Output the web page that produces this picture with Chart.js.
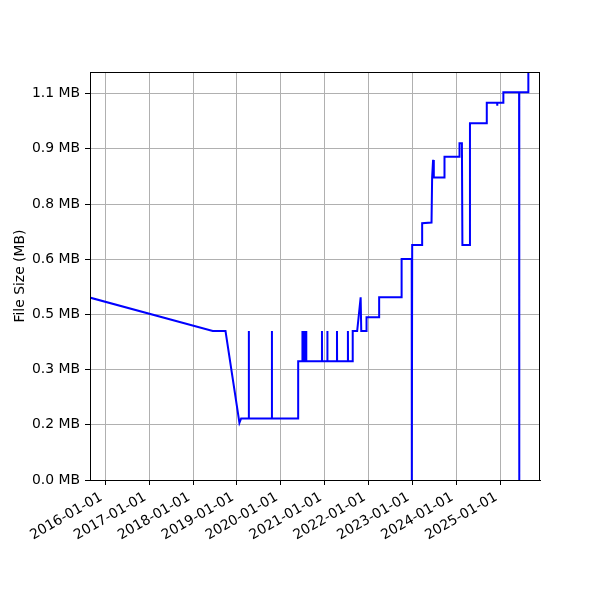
<!DOCTYPE html>
<html>
<head>
<meta charset="utf-8">
<script src="https://cdn.jsdelivr.net/npm/chart.js@4"></script>
<style>
  body { margin: 0; background: #fff; }
  canvas { display: block; }
</style>
</head>
<body>
<canvas id="FileSize" width="600" height="600"></canvas>
<script>
// file size over time
var Dates = [
  '2015-06-01', '2018-06-14', '2018-09-28', '2019-01-22', '2019-02-05',
  '2019-04-09', '2019-04-10', '2019-04-11',
  '2019-10-18', '2019-10-19', '2019-10-20',
  '2020-05-24', '2020-05-25',
  '2020-06-28', '2020-06-29', '2020-06-30',
  '2020-07-10', '2020-07-11', '2020-07-12',
  '2020-07-21', '2020-07-22', '2020-07-23',
  '2020-07-30', '2020-07-31', '2020-08-01',
  '2020-12-08', '2020-12-09', '2020-12-10',
  '2021-01-22', '2021-01-23', '2021-01-24',
  '2021-04-12', '2021-04-13', '2021-04-14',
  '2021-07-12', '2021-07-13', '2021-07-14',
  '2021-08-21', '2021-08-22', '2021-09-28', '2021-10-27', '2021-11-01',
  '2021-12-14', '2021-12-15', '2022-03-29', '2022-03-30',
  '2022-10-02', '2022-10-03', '2022-12-26', '2022-12-27', '2022-12-30',
  '2023-03-22', '2023-03-23', '2023-06-09', '2023-06-14',
  '2023-06-21', '2023-06-22', '2023-06-28',
  '2023-09-24', '2023-09-25', '2024-01-27', '2024-01-28',
  '2024-02-17', '2024-02-21', '2024-04-23', '2024-04-24',
  '2024-09-10', '2024-09-11', '2024-12-06', '2024-12-07', '2024-12-08',
  '2025-01-26', '2025-01-27', '2025-06-07', '2025-06-08', '2025-06-09',
  '2025-08-22', '2025-08-23'
];
var SizesMB = [
  0.512, 0.412, 0.412, 0.158, 0.170,
  0.170, 0.412, 0.170,
  0.170, 0.412, 0.170,
  0.170, 0.328,
  0.328, 0.412, 0.328,
  0.328, 0.412, 0.328,
  0.328, 0.412, 0.328,
  0.328, 0.412, 0.328,
  0.328, 0.412, 0.328,
  0.328, 0.412, 0.328,
  0.328, 0.412, 0.328,
  0.328, 0.412, 0.328,
  0.328, 0.412, 0.412, 0.505, 0.412,
  0.412, 0.450, 0.450, 0.505,
  0.505, 0.611, 0.611, 0.000, 0.650,
  0.650, 0.710, 0.712, 0.836,
  0.836, 0.885, 0.836,
  0.836, 0.894, 0.894, 0.931,
  0.931, 0.650, 0.650, 0.986,
  0.986, 1.043, 1.043, 1.035, 1.043,
  1.043, 1.072, 1.072, 0.000, 1.072,
  1.072, 1.250
];

var XTickLabels = ['2016-01-01', '2017-01-01', '2018-01-01', '2019-01-01', '2020-01-01',
                   '2021-01-01', '2022-01-01', '2023-01-01', '2024-01-01', '2025-01-01'];
var XMin = '2015-08-27';
var XMax = '2025-11-28';

var YTickValues = [0, 0.1526, 0.3052, 0.4578, 0.6104, 0.7629, 0.9155, 1.0681];
var YTickLabels = ['0.0 MB', '0.2 MB', '0.3 MB', '0.5 MB', '0.6 MB', '0.8 MB', '0.9 MB', '1.1 MB'];
var YMax = 1.128;

var points = [];
for (var i = 0; i < Dates.length; i++) {
  points.push({x: Date.parse(Dates[i]), y: SizesMB[i]});
}

Chart.defaults.font.family = '"DejaVu Sans", sans-serif';
Chart.defaults.font.size = 13.9;
Chart.defaults.color = '#000';

// top and right spines
const frame = {
  id: 'frame',
  afterDraw(chart) {
    const a = chart.chartArea;
    const c = chart.ctx;
    c.save();
    c.strokeStyle = '#000';
    c.lineWidth = 1;
    c.strokeRect(a.left + 0.5, a.top + 0.5, a.right - a.left - 1, a.bottom - a.top);
    c.restore();
  }
};

const ctx = document.getElementById('FileSize').getContext('2d');
const SizeChart = new Chart(ctx, {
  type: 'line',
  data: {
    datasets: [{
      data: points,
      borderColor: '#0000ff',
      borderWidth: 2,
      pointRadius: 0,
      fill: false,
      tension: 0
    }]
  },
  options: {
    responsive: false,
    animation: false,
    layout: { padding: { top: 72, right: 60, left: 0, bottom: 0 } },
    plugins: { legend: { display: false }, tooltip: { enabled: false } },
    scales: {
      x: {
        type: 'linear',
        min: Date.parse(XMin),
        max: Date.parse(XMax),
        afterBuildTicks: (scale) => {
          scale.ticks = XTickLabels.map(d => ({value: Date.parse(d)}));
        },
        afterFit: (scale) => { scale.height = 120; },
        grid: { color: '#b0b0b0', lineWidth: 1, tickColor: '#000', tickLength: 5 },
        border: { display: true, color: '#000', width: 1 },
        ticks: {
          autoSkip: false,
          minRotation: 30,
          maxRotation: 30,
          padding: 4,
          labelOffset: -4,
          callback: (value, index) => XTickLabels[index]
        }
      },
      y: {
        min: 0,
        max: YMax,
        afterBuildTicks: (scale) => {
          scale.ticks = YTickValues.map(v => ({value: v}));
        },
        afterFit: (scale) => { scale.width = 90; },
        grid: { color: '#b0b0b0', lineWidth: 1, tickColor: '#000', tickLength: 5 },
        border: { display: true, color: '#000', width: 1 },
        ticks: {
          padding: 5,
          callback: (value, index) => YTickLabels[index]
        },
        title: {
          display: true,
          text: 'File Size (MB)',
          padding: { top: 12, bottom: 0 }
        }
      }
    }
  },
  plugins: [frame]
});
</script>
</body>
</html>
